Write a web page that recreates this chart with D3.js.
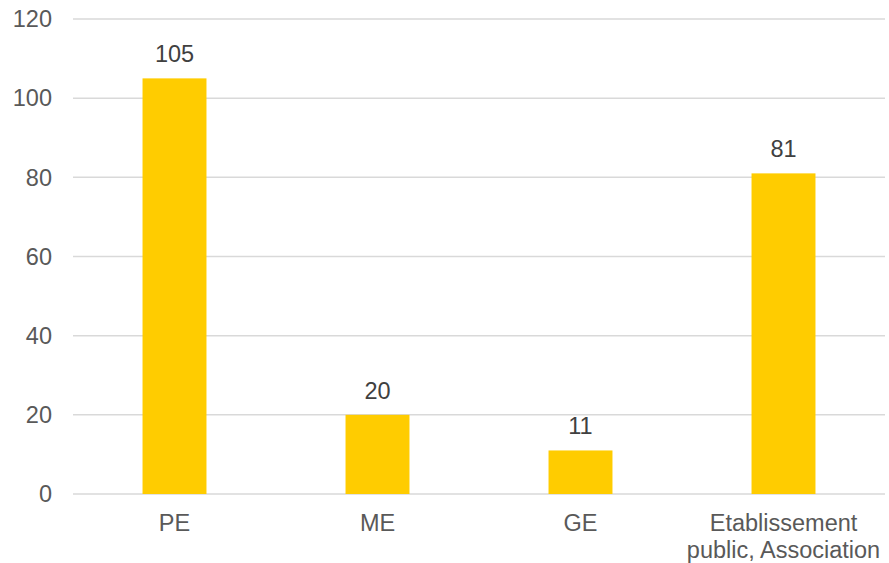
<!DOCTYPE html>
<html>
  <head>
    <meta charset="utf-8">
    <script src="https://d3js.org/d3.v7.min.js"></script>
    <style>
      body { margin: 0; background: #fff; }
      text { font-family: "Liberation Sans", Arial, sans-serif; }
    </style>
  </head>
  <body>
    <svg width="889" height="563"></svg>
    <script>
      const categories = ["PE", "ME", "GE", "Etablissement\npublic, Association"];
      const values = [105, 20, 11, 81];
      const yTicks = [0, 20, 40, 60, 80, 100, 120];

      const svg = d3.select("svg");
      const margin = {top: 19, right: 4, bottom: 69, left: 73};
      const width = +svg.attr("width");
      const height = +svg.attr("height");
      const innerWidth = width - margin.left - margin.right;
      const innerHeight = height - margin.top - margin.bottom;
      const fontSize = 23.5;

      const data = categories.map((c, i) => ({category: c, value: values[i]}));

      const xScale = d3.scaleBand()
        .domain(categories)
        .range([0, innerWidth])
        .paddingInner(0.685)
        .paddingOuter(0.3425);
      const yScale = d3.scaleLinear()
        .domain([0, 120])
        .range([innerHeight, 0]);

      const g = svg.append("g")
        .attr("transform", `translate(${margin.left}, ${margin.top})`);

      // gridlines
      g.selectAll("line.grid").data(yTicks).enter().append("line")
        .attr("class", "grid")
        .attr("x1", 0)
        .attr("x2", innerWidth)
        .attr("y1", d => yScale(d))
        .attr("y2", d => yScale(d))
        .attr("stroke", "#d9d9d9")
        .attr("stroke-width", 1.5);

      // y tick labels
      g.selectAll("text.ytick").data(yTicks).enter().append("text")
        .attr("class", "ytick")
        .attr("x", -21)
        .attr("y", d => yScale(d))
        .attr("dy", "0.35em")
        .attr("text-anchor", "end")
        .attr("font-size", fontSize)
        .attr("fill", "#595959")
        .text(d => d);

      // bars
      g.selectAll("rect").data(data).enter().append("rect")
        .attr("x", d => xScale(d.category))
        .attr("width", xScale.bandwidth())
        .attr("y", d => yScale(d.value))
        .attr("height", d => innerHeight - yScale(d.value))
        .attr("fill", "#ffcc00");

      // data labels
      g.selectAll("text.val").data(data).enter().append("text")
        .attr("class", "val")
        .attr("x", d => xScale(d.category) + xScale.bandwidth() / 2)
        .attr("y", d => yScale(d.value) - 16)
        .attr("text-anchor", "middle")
        .attr("font-size", fontSize)
        .attr("fill", "#404040")
        .text(d => d.value);

      // category labels
      const cats = g.selectAll("text.cat").data(data).enter().append("text")
        .attr("class", "cat")
        .attr("text-anchor", "middle")
        .attr("font-size", fontSize)
        .attr("fill", "#595959")
        .attr("transform", d => `translate(${xScale(d.category) + xScale.bandwidth() / 2}, ${innerHeight + 37})`);
      cats.selectAll("tspan").data(d => d.category.split("\n")).enter().append("tspan")
        .attr("x", 0)
        .attr("dy", (d, i) => i === 0 ? 0 : 27)
        .text(d => d);
    </script>
  </body>
</html>
